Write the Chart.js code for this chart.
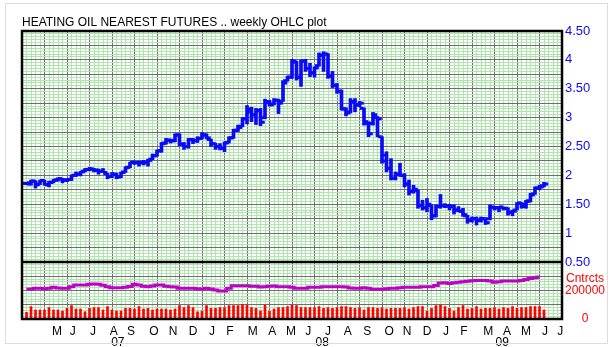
<!DOCTYPE html>
<html><head><meta charset="utf-8">
<script src="https://cdn.jsdelivr.net/npm/chart.js@4.4.1/dist/chart.umd.min.js"></script>
<style>
html,body{margin:0;padding:0;background:#fff;}
#wrap{position:relative;width:612px;height:347px;}
#frame{position:absolute;left:5px;top:3px;width:603px;height:341px;border:1px solid #dcdcdc;box-sizing:border-box;pointer-events:none;}
canvas{display:block;}
</style>
</head><body><div id="wrap"><canvas id="c" width="612" height="347"></canvas><div id="frame"></div></div>
<script>
// ---- weekly OHLC (Heating oil nearest futures, $/gal), one entry per week ----
const open = [1.86,1.85,1.90,1.85,1.91,1.84,1.88,1.92,1.94,1.92,
1.93,2.00,2.02,2.07,2.10,2.11,2.09,2.07,2.03,1.98,
2.02,1.98,2.06,2.14,2.23,2.22,2.22,2.22,2.28,2.34,
2.43,2.56,2.61,2.60,2.70,2.54,2.50,2.62,2.60,2.64,
2.70,2.62,2.55,2.50,2.47,2.57,2.65,2.78,2.85,2.98,
3.10,3.05,3.12,3.00,3.26,3.24,3.30,3.28,3.64,3.70,
3.96,3.70,3.98,3.85,3.78,3.90,4.08,4.10,3.72,3.56,
3.45,3.15,3.10,3.27,3.22,3.16,2.90,2.90,3.00,2.67,
2.35,2.12,1.95,2.02,2.00,1.85,1.72,1.74,1.48,1.44,
1.48,1.30,1.46,1.48,1.47,1.46,1.40,1.38,1.30,1.22,
1.25,1.22,1.25,1.25,1.45,1.44,1.45,1.43,1.36,1.40,
1.52,1.46,1.56,1.68,1.78,1.82];
const high = [1.88,1.92,1.91,1.92,1.92,1.90,1.93,1.96,1.95,1.94,
2.01,2.06,2.07,2.12,2.14,2.12,2.11,2.12,2.04,2.05,
2.04,2.06,2.15,2.23,2.25,2.25,2.26,2.28,2.37,2.44,
2.57,2.64,2.63,2.72,2.72,2.57,2.64,2.64,2.67,2.74,
2.72,2.63,2.56,2.55,2.58,2.67,2.80,2.87,3.00,3.21,
3.18,3.16,3.16,3.32,3.30,3.33,3.32,3.64,3.72,4.01,
3.98,4.00,4.01,3.94,3.88,4.12,4.14,4.11,3.80,3.59,
3.48,3.17,3.33,3.33,3.28,3.17,2.93,3.09,3.02,2.67,
2.41,2.29,2.06,2.21,2.03,1.92,1.83,1.75,1.57,1.60,
1.49,1.49,1.67,1.51,1.50,1.49,1.46,1.43,1.31,1.28,
1.28,1.28,1.26,1.49,1.46,1.46,1.45,1.44,1.40,1.53,
1.53,1.57,1.69,1.80,1.83,1.88];
const low = [1.84,1.83,1.78,1.84,1.83,1.80,1.87,1.90,1.87,1.89,
1.91,1.98,1.99,2.06,2.08,2.06,2.02,2.05,1.94,1.96,
1.94,1.96,2.05,2.13,2.19,2.16,2.18,2.16,2.27,2.33,
2.40,2.54,2.56,2.58,2.51,2.45,2.47,2.55,2.57,2.63,
2.63,2.50,2.45,2.44,2.41,2.56,2.64,2.76,2.84,2.89,
2.93,2.88,2.86,2.98,3.20,3.22,3.07,3.28,3.63,3.68,
3.65,3.54,3.80,3.71,3.70,3.89,3.80,3.68,3.52,3.42,
3.13,3.03,3.08,3.10,3.19,2.87,2.67,2.87,2.67,2.21,
2.06,1.92,1.92,1.98,1.80,1.66,1.69,1.43,1.40,1.37,
1.23,1.28,1.43,1.44,1.40,1.33,1.37,1.29,1.17,1.19,
1.14,1.19,1.15,1.23,1.40,1.37,1.40,1.31,1.30,1.40,
1.43,1.43,1.54,1.67,1.75,1.80];
const close = [1.87,1.90,1.84,1.91,1.84,1.88,1.92,1.94,1.92,1.93,
2.00,2.02,2.06,2.10,2.11,2.09,2.07,2.05,1.98,2.02,
1.97,2.05,2.14,2.22,2.22,2.22,2.23,2.26,2.34,2.42,
2.55,2.61,2.60,2.70,2.54,2.50,2.62,2.60,2.64,2.70,
2.65,2.55,2.50,2.47,2.56,2.65,2.78,2.83,2.98,3.15,
3.05,3.12,2.92,3.28,3.22,3.30,3.25,3.60,3.70,3.98,
3.70,3.98,3.85,3.78,3.86,4.08,4.10,3.72,3.56,3.46,
3.15,3.08,3.28,3.22,3.25,2.93,2.72,3.05,2.98,2.25,
2.12,1.95,2.02,2.00,1.85,1.72,1.76,1.48,1.44,1.50,
1.30,1.46,1.48,1.47,1.46,1.40,1.38,1.32,1.22,1.25,
1.22,1.25,1.18,1.45,1.44,1.45,1.43,1.36,1.38,1.52,
1.50,1.55,1.66,1.78,1.80,1.85];
// ---- weekly volume and open interest (contracts) ----
const volume = [47000,87000,63000,63000,63000,80000,63000,63000,56000,75000,
94000,70000,70000,51000,75000,80000,80000,63000,87000,63000,
56000,56000,75000,75000,70000,87000,70000,75000,63000,70000,
70000,70000,63000,70000,94000,80000,94000,80000,51000,56000,
94000,75000,75000,80000,80000,94000,94000,94000,103000,98000,
80000,75000,56000,98000,56000,70000,80000,80000,87000,98000,
94000,80000,80000,80000,80000,87000,75000,80000,75000,80000,
87000,87000,80000,75000,80000,63000,80000,80000,75000,80000,
70000,75000,75000,75000,80000,70000,80000,87000,87000,56000,
75000,94000,98000,87000,75000,56000,80000,94000,70000,75000,
87000,70000,75000,75000,80000,70000,80000,75000,87000,75000,
80000,80000,87000,87000,87000,63000];
const openInterest = [210000,210000,215000,215000,212000,215000,222000,218000,215000,215000,
227000,238000,239000,239000,244000,246000,244000,236000,227000,220000,
220000,220000,222000,228000,243000,238000,229000,227000,232000,238000,
238000,230000,227000,224000,215000,215000,215000,215000,213000,210000,
215000,210000,204000,197000,197000,215000,234000,234000,234000,234000,
230000,229000,224000,227000,229000,232000,227000,227000,227000,222000,
215000,215000,215000,222000,222000,222000,227000,227000,227000,227000,
227000,225000,218000,215000,215000,220000,215000,208000,208000,208000,
212000,215000,215000,220000,222000,222000,222000,222000,227000,227000,
227000,235000,252000,255000,250000,255000,258000,262000,265000,268000,
271000,271000,270000,266000,258000,262000,267000,267000,267000,267000,
270000,278000,285000,290000,295000];
// ---- axis tick labels (positions in week units) ----
const monthLabels = ['M','J','J','A','S','O','N','D','J','F','M','A','M','J','J','A','S','O','N','D','J','F','M','A','M','J','J'];
const monthTickWeeks = [7.8,11.3,15.8,20.4,24.2,29.3,33.6,38,42.2,46.2,51.3,55.6,59.8,63.6,68,72.4,76.7,81.6,85.6,90,94.2,98.2,103.6,107.8,112,116.2,119.6];
const yearLabels = ['07','08','09'];
const yearTickWeeks = [21.3,66.7,106.7];
const priceLabelsEvery = 0.5;

const FONT = "'Liberation Sans', Arial, sans-serif";
const BLUE = '#0a0af5', RED = '#ff0000', PURPLE = '#c000c8';
const DARK = '#6e6e6e', GREEN = '#aee6ae';

const hlData = high.map((h,i)=>({x:i+1, y:[low[i], h]}));
const openData = open.map((v,i)=>({x:i+1-0.5, y:v}));
const closeData = close.map((v,i)=>({x:i+1+0.5, y:v}));
const volData = volume.map((v,i)=>({x:i+1, y:v}));
const oiData = openInterest.map((v,i)=>({x:i+1, y:v}));

const framePlugin = {
  id:'frame',
  afterDraw(chart){
    const {ctx, chartArea:a} = chart;
    const yb = chart.scales.y.bottom;
    ctx.save();
    ctx.strokeStyle = '#000';
    ctx.lineWidth = 2.5;
    ctx.strokeRect(a.left, a.top, a.right-a.left, a.bottom-a.top);
    ctx.beginPath(); ctx.moveTo(a.left, yb); ctx.lineTo(a.right, yb); ctx.stroke();
    ctx.restore();
  }
};

new Chart(document.getElementById('c'), {
  type:'bar',
  data:{ datasets:[
    {type:'bar', label:'HL', data:hlData, xAxisID:'x', yAxisID:'y', backgroundColor:BLUE, barThickness:3, grouped:false, order:2},
    {type:'line', label:'Open', data:openData, xAxisID:'x', yAxisID:'y', showLine:false, pointStyle:'line', pointRadius:2, pointBorderWidth:3, pointBorderColor:BLUE, pointBackgroundColor:BLUE, order:1},
    {type:'line', label:'Close', data:closeData, xAxisID:'x', yAxisID:'y', showLine:false, pointStyle:'line', pointRadius:2, pointBorderWidth:3, pointBorderColor:BLUE, pointBackgroundColor:BLUE, order:1},
    {type:'bar', label:'Volume', data:volData, xAxisID:'x', yAxisID:'y2', backgroundColor:RED, barThickness:2, grouped:false, order:3},
    {type:'line', label:'OI', data:oiData, xAxisID:'x', yAxisID:'y2', borderColor:PURPLE, borderWidth:3, pointRadius:0, stepped:'middle', order:0}
  ]},
  options:{
    responsive:false, animation:false, devicePixelRatio:1, events:[],
    layout:{padding:{left:22, right:0, top:0, bottom:0}},
    plugins:{
      legend:{display:false}, tooltip:{enabled:false},
      title:{display:true, text:'HEATING OIL NEAREST FUTURES .. weekly OHLC plot', align:'start', color:'#000',
        font:{family:FONT, size:12, weight:'normal', lineHeight:'14px'}, padding:{top:16, bottom:1}}
    },
    scales:{
      x:{type:'linear', position:'bottom', min:0, max:120, offset:false,
        grid:{offset:false, drawTicks:false, lineWidth:1, color:c=> (Math.round(c.tick.value)%5===0 ? DARK : GREEN)},
        border:{display:false},
        ticks:{display:false, stepSize:1, autoSkip:false},
        afterFit:s=>{s.height=0;}},
      xm:{type:'linear', position:'bottom', min:0, max:120, offset:false,
        grid:{display:false, drawTicks:false, offset:false}, border:{display:false},
        afterBuildTicks:s=>{s.ticks = monthTickWeeks.map(v=>({value:v}));},
        ticks:{autoSkip:false, maxRotation:0, minRotation:0, padding:5, color:'#000', font:{family:FONT, size:12}, callback:(v,i)=>monthLabels[i]},
        afterFit:s=>{s.height=16;}},
      xy:{type:'linear', position:'bottom', min:0, max:120, offset:false,
        grid:{display:false, drawTicks:false, offset:false}, border:{display:false},
        afterBuildTicks:s=>{s.ticks = yearTickWeeks.map(v=>({value:v}));},
        ticks:{autoSkip:false, maxRotation:0, minRotation:0, padding:0, color:'#000', font:{family:FONT, size:12}, callback:(v,i)=>yearLabels[i]},
        afterFit:s=>{s.height=12;}},
      y:{type:'linear', position:'right', stack:'p', stackWeight:231, min:0.5, max:4.5,
        grid:{drawTicks:false, lineWidth:1, color:c=>{const k=Math.round(c.tick.value*100); return k%25===0?DARK:GREEN;}},
        border:{display:false},
        ticks:{stepSize:0.05, autoSkip:false, padding:3, color:BLUE, font:{family:FONT, size:13},
          callback:v=>{const k=Math.round(v*100); if(k%Math.round(priceLabelsEvery*100)!==0) return ''; return k%100===0?String(k/100):(k/100).toFixed(2);}},
        afterFit:s=>{s.width=50;}},
      y2:{type:'linear', position:'right', stack:'p', stackWeight:57, min:0, max:400000,
        grid:{drawTicks:false, lineWidth:1, color:c=>{const k=Math.round(c.tick.value/1000); return k%100===0?DARK:GREEN;}},
        border:{display:false},
        ticks:{stepSize:20000, autoSkip:false, padding:3, crossAlign:'center', color:RED, font:{family:FONT, size:12},
          callback:v=> v===0?'0': v===200000?'200000': v===280000?'Cntrcts':''},
        afterFit:s=>{s.width=50;}}
    }
  },
  plugins:[framePlugin]
});
</script>
</body></html>
